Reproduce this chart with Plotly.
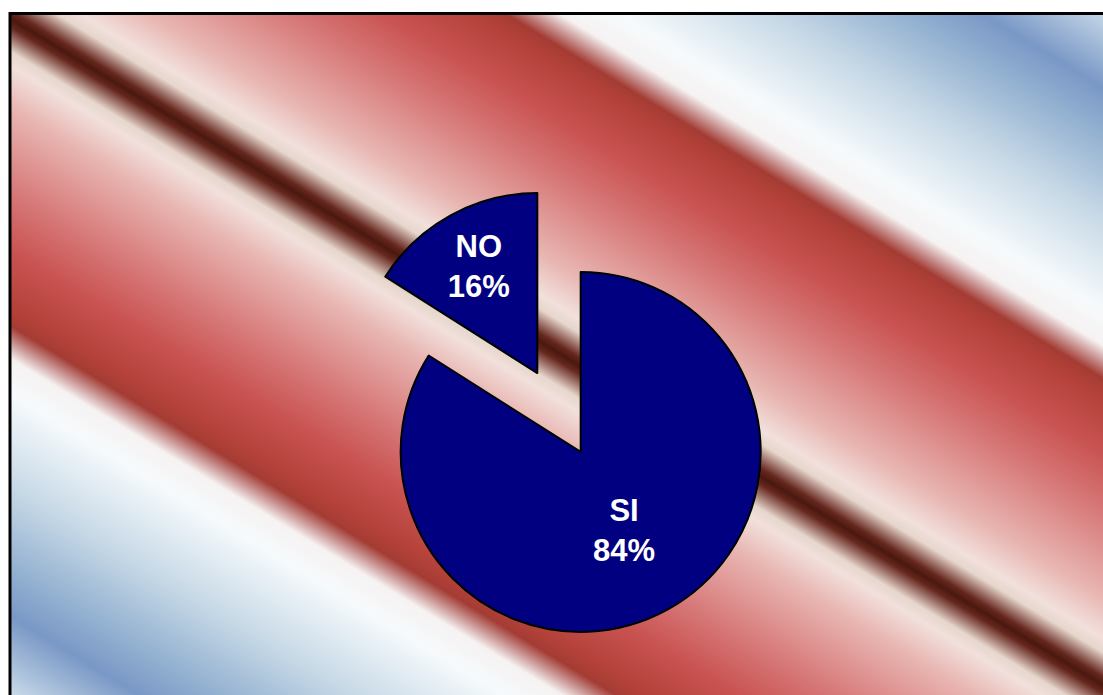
import base64
import plotly.graph_objects as go

# ---- data ----
labels = ["SI", "NO"]
values = [84, 16]

# ---- background gradient (style) ----
W, H = 1103, 695
p0 = (560.0, 354.0)
n = (-0.521, 0.854)
D = 575.0
profile = [
    (0, "#4a1810"), (7, "#66281e"), (16, "#9c7068"), (28, "#e6d6cc"),
    (40, "#f2e0dc"), (75, "#e8b6b2"), (150, "#d67676"), (200, "#c85250"),
    (245, "#b4423a"), (262, "#a43c34"), (274, "#c48a88"), (290, "#f6f2f2"),
    (320, "#f6fafc"), (400, "#c6d8e6"), (470, "#92b0d0"), (510, "#7a98c6"),
    (575, "#c6d8e8"),
]
stops = []
for dd, c in reversed(profile):
    stops.append(((-dd + D) / (2 * D), c))
for dd, c in profile[1:]:
    stops.append(((dd + D) / (2 * D), c))
stop_xml = "".join(
    f'<stop offset="{o:.4f}" stop-color="{c}"/>' for o, c in stops
)
x1, y1 = p0[0] - D * n[0], p0[1] - D * n[1]
x2, y2 = p0[0] + D * n[0], p0[1] + D * n[1]
svg = (
    f'<svg xmlns="http://www.w3.org/2000/svg" width="{W}" height="{H}" '
    f'viewBox="0 0 {W} {H}" preserveAspectRatio="none">'
    f'<defs><linearGradient id="g" gradientUnits="userSpaceOnUse" '
    f'x1="{x1:.1f}" y1="{y1:.1f}" x2="{x2:.1f}" y2="{y2:.1f}">{stop_xml}'
    f'</linearGradient></defs>'
    f'<rect x="10" y="13" width="{W}" height="{H}" fill="url(#g)"/></svg>'
)
src = "data:image/svg+xml;base64," + base64.b64encode(svg.encode()).decode()

fig = go.Figure(
    go.Pie(
        labels=labels,
        values=values,
        sort=False,
        direction="clockwise",
        rotation=0,
        pull=[0.25, 0.25],
        marker=dict(colors=["#000080", "#000080"],
                    line=dict(color="black", width=2)),
        textinfo="label+percent",
        textposition="inside",
        insidetextorientation="horizontal",
        textfont=dict(family="Liberation Sans, Arial, sans-serif",
                      size=31, color="white", weight="bold"),
        domain=dict(x=[334 / W, 784 / W], y=[(H - 637.5) / H, (H - 187.5) / H]),
        showlegend=False,
        hoverinfo="skip",
    )
)

fig.update_layout(
    width=W,
    height=H,
    margin=dict(l=0, r=0, t=0, b=0),
    paper_bgcolor="white",
    plot_bgcolor="white",
    images=[dict(source=src, xref="paper", yref="paper", x=0, y=1,
                 sizex=1, sizey=1, xanchor="left", yanchor="top",
                 sizing="stretch", layer="below")],
    shapes=[dict(type="rect", xref="paper", yref="paper",
                 x0=10 / W, y0=-0.05, x1=1.05, y1=(H - 13.5) / H,
                 line=dict(color="black", width=3), fillcolor="rgba(0,0,0,0)")],
    uniformtext=dict(minsize=31, mode="show"),
)

fig.write_html("out.html")
